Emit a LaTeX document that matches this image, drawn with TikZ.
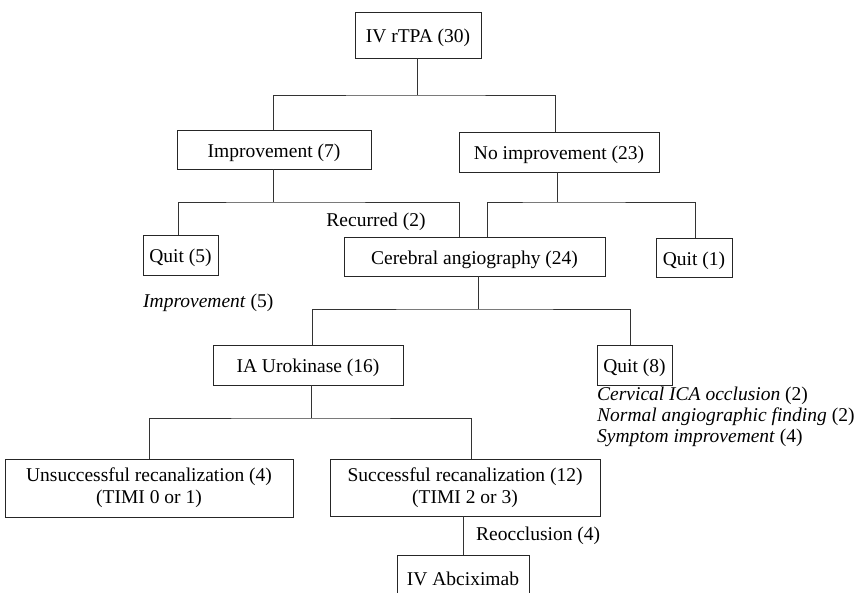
\documentclass[tikz,border=0pt]{standalone}
\usepackage{fontspec}
\setmainfont{Liberation Serif}
\begin{document}
\begin{tikzpicture}[x=1pt,y=-1pt,
  box/.style={draw=black!85,line width=0.8pt,inner sep=0pt,align=center,font=\fontsize{19.5}{22}\selectfont},
  one/.style={text height=16pt,text depth=0pt},
  lab/.style={inner sep=0pt,font=\fontsize{19.5}{22}\selectfont},
  conn/.style={draw=black!80,line width=0.8pt}]
\useasboundingbox (0,0) rectangle (867,593);
\node[box,one,minimum width=126,minimum height=46] (top) at (418,35) {IV rTPA (30)};
\node[box,one,minimum width=194,minimum height=39] (imp) at (274,149.5) {Improvement (7)};
\node[box,one,minimum width=200,minimum height=40] (noimp) at (559,152) {No improvement (23)};
\node[box,one,minimum width=75,minimum height=40] (quitA) at (180.5,255) {Quit (5)};
\node[box,one,minimum width=261,minimum height=39] (cereb) at (474.5,256.5) {Cerebral angiography (24)};
\node[box,one,minimum width=76,minimum height=39] (quitB) at (694,257.5) {Quit (1)};
\node[box,one,minimum width=190,minimum height=40] (ia) at (308,365) {IA Urokinase (16)};
\node[box,one,minimum width=75,minimum height=40] (quitC) at (634.5,365) {Quit (8)};
\node[box,minimum width=288,minimum height=58] (unsucc) at (149,488) {Unsuccessful recanalization (4)\\(TIMI 0 or 1)};
\node[box,minimum width=270,minimum height=57] (succ) at (465,487.5) {Successful recanalization (12)\\(TIMI 2 or 3)};
\node[box,one,minimum width=132,minimum height=44] (abc) at (463,577) {IV Abciximab};

\node[lab] (rec) at (376,222) {Recurred (2)};
\node[lab,anchor=west] (impl) at (143,303) {\textit{Improvement} (5)};
\node[lab,anchor=west] (r1) at (597,396) {\textit{Cervical ICA occlusion} (2)};
\node[lab,anchor=west] (r2) at (597,417) {\textit{Normal angiographic finding} (2)};
\node[lab,anchor=west] (r3) at (597,438) {\textit{Symptom improvement} (4)};
\node[lab,anchor=west] (reo) at (476,536) {Reocclusion (4)};

\coordinate (j1) at (417,95);
\draw[conn] ([xshift=-1]top.south) -- (j1);
\draw[conn] ([xshift=-1]imp.north) |- (j1) -| ([xshift=-4]noimp.north);

\coordinate (j2) at (273,202);
\coordinate (c1) at (459,237);
\draw[conn] ([xshift=-1]imp.south) -- (j2);
\draw[conn] ([xshift=-2.5]quitA.north) |- (j2) -| (c1);

\coordinate (j3) at (557,202);
\coordinate (c2) at (487,237);
\draw[conn] ([xshift=-2]noimp.south) -- (j3);
\draw[conn] (c2) |- (j3) -| ([xshift=1]quitB.north);

\coordinate (j4) at (478,309);
\draw[conn] ([xshift=3.5]cereb.south) -- (j4);
\draw[conn] ([xshift=4]ia.north) |- (j4) -| ([xshift=-4.5]quitC.north);

\coordinate (j5) at (311,418);
\draw[conn] ([xshift=3]ia.south) -- (j5);
\draw[conn] (unsucc.north) |- (j5) -| ([xshift=6]succ.north);

\draw[conn] ([xshift=-2]succ.south) -- (abc.north);
\end{tikzpicture}
\end{document}
